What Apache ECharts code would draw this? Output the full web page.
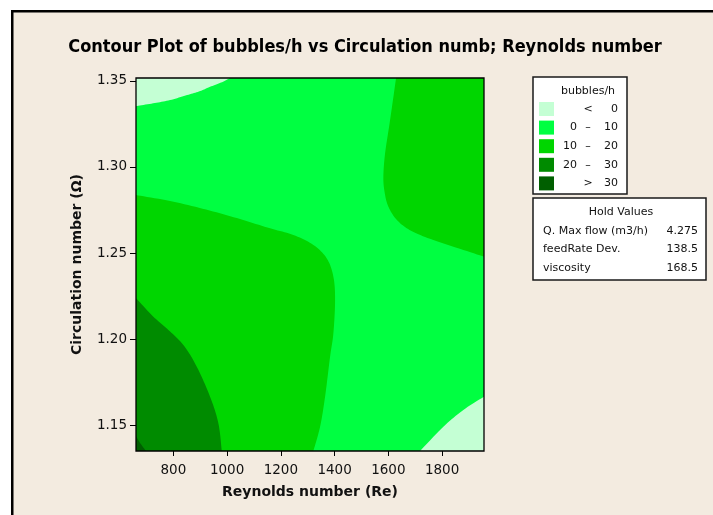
<!DOCTYPE html>
<html>
<head>
<meta charset="utf-8">
<title>Contour Plot of bubbles/h</title>
<script src="https://cdn.jsdelivr.net/npm/echarts@6/dist/echarts.min.js"></script>
<style>
  html, body { margin: 0; padding: 0; background: #ffffff; }
  #chart { width: 713px; height: 515px; }
</style>
</head>
<body>
<div id="chart"></div>
<script>
// Axis extents and tick labels
const reynoldsRange = [661, 1956];
const circulationRange = [1.1353, 1.3516];
const reynoldsTicks = [800, 1000, 1200, 1400, 1600, 1800];
const circulationTicks = [1.15, 1.20, 1.25, 1.30, 1.35];

// Contour bands (bubbles/h)
const bandLabels = [['', '<', '0'], ['0', '–', '10'], ['10', '–', '20'], ['20', '–', '30'], ['', '>', '30']];
const bandColors = ['#C4FFD4', '#00FF41', '#00D600', '#008B00', '#005F00'];

// Hold values
const holdNames = ['Q. Max flow (m3/h)', 'feedRate Dev.', 'viscosity'];
const holdValues = ['4.275', '138.5', '168.5'];

// Contour boundaries as [Re, Ω] pairs
const lineZeroTopLeft = [[661, 1.3353], [724.5, 1.3369], [787.7, 1.3388], [851, 1.3417], [899.4, 1.3440], [936.6, 1.3465], [981.2, 1.3492], [1011, 1.3516]];
const lineTenTopRight = [[1628.8, 1.3516], [1606.5, 1.3272], [1587.9, 1.3079], [1581.5, 1.2943], [1586, 1.2855], [1599, 1.2774], [1628.8, 1.2698], [1673.5, 1.2640], [1736.8, 1.2594], [1842, 1.2538], [1956, 1.2480]];
const lineTenLeft = [[661, 1.2837], [787.7, 1.2803], [921.7, 1.2753], [1048.2, 1.2698], [1159.9, 1.2644], [1246.6, 1.2606], [1321, 1.2548], [1370.9, 1.2470], [1395.5, 1.2364], [1401.8, 1.2229], [1395.5, 1.2036], [1383.2, 1.1900], [1364.6, 1.1668], [1346, 1.1494], [1321, 1.1353]];
const lineTwenty = [[661, 1.2239], [725.6, 1.2132], [781.4, 1.2055], [837.2, 1.1968], [887.1, 1.1842], [936.6, 1.1668], [967.5, 1.1514], [980.1, 1.1353]];
const lineThirty = [[661, 1.1440], [676, 1.1400], [698.4, 1.1353]];
const lineZeroBottomRight = [[1956, 1.1668], [1879.2, 1.1591], [1804.8, 1.1494], [1718, 1.1353]];

const [xLo, xHi] = reynoldsRange;
const [yLo, yHi] = circulationRange;

// Filled regions, painted in order (later ones on top): a curved boundary closed by plot corners
const regions = [
  { band: 1, curve: [], corners: [[xLo, yLo], [xHi, yLo], [xHi, yHi], [xLo, yHi]] },
  { band: 2, curve: lineTenLeft, corners: [[xLo, yLo]] },
  { band: 2, curve: lineTenTopRight, corners: [[xHi, yHi]] },
  { band: 3, curve: lineTwenty, corners: [[xLo, yLo]] },
  { band: 4, curve: lineThirty, corners: [[xLo, yLo]] },
  { band: 0, curve: lineZeroTopLeft, corners: [[xLo, yHi]] },
  { band: 0, curve: lineZeroBottomRight, corners: [[xHi, yLo]] }
];

// Smooth a pixel-space polyline with a Catmull-Rom spline for drawing
function smoothPixels(pts, steps) {
  if (pts.length < 3) return pts.slice();
  const out = [];
  for (let i = 0; i < pts.length - 1; i++) {
    const p0 = pts[Math.max(i - 1, 0)], p1 = pts[i], p2 = pts[i + 1], p3 = pts[Math.min(i + 2, pts.length - 1)];
    for (let s = 0; s < steps; s++) {
      const t = s / steps, t2 = t * t, t3 = t2 * t;
      const f = (a, b, c, d) => 0.5 * (2 * b + (-a + c) * t + (2 * a - 5 * b + 4 * c - d) * t2 + (-a + 3 * b - 3 * c + d) * t3);
      out.push([f(p0[0], p1[0], p2[0], p3[0]), f(p0[1], p1[1], p2[1], p3[1])]);
    }
  }
  out.push(pts[pts.length - 1]);
  return out;
}

const chart = echarts.init(document.getElementById('chart'), null, { renderer: 'canvas' });

const tickFont = "'DejaVu Sans', sans-serif";
const boxFont = "11px 'DejaVu Sans', sans-serif";
const textColor = '#111111';

// Legend box graphics
const legendItems = [];
legendItems.push({ type: 'rect', shape: { x: 533, y: 77, width: 94, height: 117 },
  style: { fill: '#ffffff', stroke: '#1a1a1a', lineWidth: 1.5 } });
legendItems.push({ type: 'text', x: 588, y: 91, style: { text: 'bubbles/h', font: boxFont, fill: textColor, textAlign: 'center', textVerticalAlign: 'middle' } });
bandLabels.forEach((lab, i) => {
  const cy = 109 + i * 18.6;
  legendItems.push({ type: 'rect', shape: { x: 539, y: cy - 7, width: 15, height: 14 }, style: { fill: bandColors[i] } });
  legendItems.push({ type: 'text', x: 577, y: cy, style: { text: lab[0], font: boxFont, fill: textColor, textAlign: 'right', textVerticalAlign: 'middle' } });
  legendItems.push({ type: 'text', x: 588, y: cy, style: { text: lab[1], font: boxFont, fill: textColor, textAlign: 'center', textVerticalAlign: 'middle' } });
  legendItems.push({ type: 'text', x: 618, y: cy, style: { text: lab[2], font: boxFont, fill: textColor, textAlign: 'right', textVerticalAlign: 'middle' } });
});

// Hold values box graphics
const holdItems = [];
holdItems.push({ type: 'rect', shape: { x: 533, y: 198, width: 173, height: 82 },
  style: { fill: '#ffffff', stroke: '#1a1a1a', lineWidth: 1.5 } });
holdItems.push({ type: 'text', x: 621, y: 212, style: { text: 'Hold Values', font: boxFont, fill: textColor, textAlign: 'center', textVerticalAlign: 'middle' } });
holdNames.forEach((name, i) => {
  const cy = 231 + i * 18.4;
  holdItems.push({ type: 'text', x: 543, y: cy, style: { text: name, font: boxFont, fill: textColor, textAlign: 'left', textVerticalAlign: 'middle' } });
  holdItems.push({ type: 'text', x: 698, y: cy, style: { text: holdValues[i], font: boxFont, fill: textColor, textAlign: 'right', textVerticalAlign: 'middle' } });
});

const option = {
  backgroundColor: '#F3EBE0',
  animation: false,
  grid: { left: 136, top: 78, width: 348, height: 373, show: false },
  xAxis: {
    type: 'value',
    min: xLo, max: xHi,
    name: 'Reynolds number (Re)',
    nameLocation: 'middle',
    nameGap: 34,
    nameTextStyle: { fontFamily: tickFont, fontWeight: 'bold', fontSize: 14, color: textColor },
    axisLine: { show: false },
    axisTick: { show: true, length: 5, inside: false, customValues: reynoldsTicks, lineStyle: { color: '#000' } },
    axisLabel: { customValues: reynoldsTicks, margin: 12, fontFamily: tickFont, fontSize: 13.5, color: textColor,
      formatter: v => String(v) },
    splitLine: { show: false }
  },
  yAxis: {
    type: 'value',
    min: yLo, max: yHi,
    name: 'Circulation number (Ω)',
    nameLocation: 'middle',
    nameGap: 52,
    nameTextStyle: { fontFamily: tickFont, fontWeight: 'bold', fontSize: 14, color: textColor },
    axisLine: { show: false },
    axisTick: { show: true, length: 6, inside: false, customValues: circulationTicks, lineStyle: { color: '#000' } },
    axisLabel: { customValues: circulationTicks, margin: 9, fontFamily: tickFont, fontSize: 13.5, color: textColor,
      formatter: v => v.toFixed(2) },
    splitLine: { show: false }
  },
  series: [{
    type: 'custom',
    coordinateSystem: 'cartesian2d',
    silent: true,
    data: regions.map((r, i) => [i]),
    encode: { x: -1, y: -1 },
    renderItem: function (params, api) {
      const reg = regions[params.dataIndex];
      const curvePx = smoothPixels(reg.curve.map(p => api.coord(p)), 10);
      const pts = curvePx.concat(reg.corners.map(p => api.coord(p)));
      return { type: 'polygon', shape: { points: pts }, style: { fill: bandColors[reg.band], stroke: null } };
    }
  }],
  graphic: [
    // page margin and outer frame lines
    { type: 'rect', shape: { x: 0, y: 0, width: 713, height: 10 }, style: { fill: '#ffffff' }, silent: true },
    { type: 'rect', shape: { x: 0, y: 0, width: 11, height: 515 }, style: { fill: '#ffffff' }, silent: true },
    { type: 'rect', shape: { x: 11, y: 10, width: 702, height: 2.5 }, style: { fill: '#000000' }, silent: true },
    { type: 'rect', shape: { x: 11, y: 10, width: 2.5, height: 505 }, style: { fill: '#000000' }, silent: true },
    // plot frame
    { type: 'rect', z: 100, shape: { x: 136, y: 78, width: 348, height: 373 }, style: { fill: null, stroke: '#000000', lineWidth: 1.3 }, silent: true },
    // chart title
    { type: 'text', x: 365, y: 47, z: 100, style: { text: 'Contour Plot of bubbles/h vs Circulation numb; Reynolds number',
      font: "bold 18px 'DejaVu Sans Condensed', 'DejaVu Sans', sans-serif", fill: '#000000', textAlign: 'center', textVerticalAlign: 'middle' } }
  ].concat(legendItems, holdItems)
};

chart.setOption(option);
</script>
</body>
</html>
